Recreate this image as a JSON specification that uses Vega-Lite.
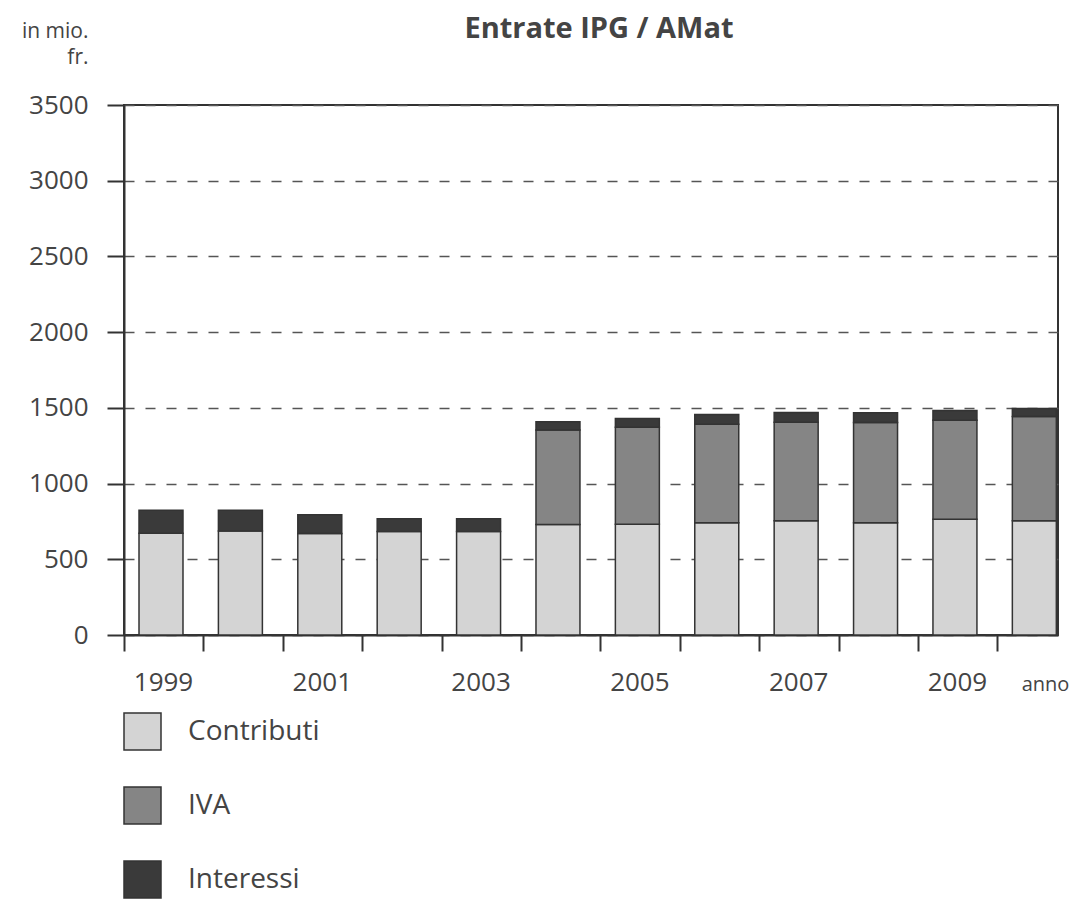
{
  "$schema": "https://vega.github.io/schema/vega-lite/v6.json",
  "width": 934,
  "height": 530,
  "autosize": {"type": "none"},
  "padding": {"left": 124, "top": 105, "right": 18, "bottom": 265},
  "background": "white",
  "title": {"text": "Entrate IPG / AMat", "font": "Open Sans", "fontSize": 29, "fontWeight": "bold", "color": "#444444", "anchor": "middle", "offset": -24, "dx": 8},
  "data": {"values": [
    {"year": "1999", "cat": "Contributi", "v": 672, "o": 1},
    {"year": "1999", "cat": "Interessi", "v": 151, "o": 3},
    {"year": "2000", "cat": "Contributi", "v": 686, "o": 1},
    {"year": "2000", "cat": "Interessi", "v": 137, "o": 3},
    {"year": "2001", "cat": "Contributi", "v": 670, "o": 1},
    {"year": "2001", "cat": "Interessi", "v": 124, "o": 3},
    {"year": "2002", "cat": "Contributi", "v": 684, "o": 1},
    {"year": "2002", "cat": "Interessi", "v": 83, "o": 3},
    {"year": "2003", "cat": "Contributi", "v": 683, "o": 1},
    {"year": "2003", "cat": "Interessi", "v": 84, "o": 3},
    {"year": "2004", "cat": "Contributi", "v": 729, "o": 1},
    {"year": "2004", "cat": "IVA", "v": 625, "o": 2},
    {"year": "2004", "cat": "Interessi", "v": 54, "o": 3},
    {"year": "2005", "cat": "Contributi", "v": 732, "o": 1},
    {"year": "2005", "cat": "IVA", "v": 640, "o": 2},
    {"year": "2005", "cat": "Interessi", "v": 58, "o": 3},
    {"year": "2006", "cat": "Contributi", "v": 741, "o": 1},
    {"year": "2006", "cat": "IVA", "v": 651, "o": 2},
    {"year": "2006", "cat": "Interessi", "v": 64, "o": 3},
    {"year": "2007", "cat": "Contributi", "v": 754, "o": 1},
    {"year": "2007", "cat": "IVA", "v": 651, "o": 2},
    {"year": "2007", "cat": "Interessi", "v": 64, "o": 3},
    {"year": "2008", "cat": "Contributi", "v": 741, "o": 1},
    {"year": "2008", "cat": "IVA", "v": 662, "o": 2},
    {"year": "2008", "cat": "Interessi", "v": 64, "o": 3},
    {"year": "2009", "cat": "Contributi", "v": 765, "o": 1},
    {"year": "2009", "cat": "IVA", "v": 653, "o": 2},
    {"year": "2009", "cat": "Interessi", "v": 64, "o": 3},
    {"year": "2010", "cat": "Contributi", "v": 754, "o": 1},
    {"year": "2010", "cat": "IVA", "v": 689, "o": 2},
    {"year": "2010", "cat": "Interessi", "v": 53, "o": 3}
  ]},
  "mark": {"type": "bar", "stroke": "#333333", "strokeWidth": 1.5},
  "encoding": {
    "x": {
      "field": "year", "type": "ordinal",
      "scale": {"paddingInner": 0.446, "paddingOuter": 0.105, "align": 0.9},
      "axis": {
        "title": "anno", "titleFont": "Open Sans", "titleFontSize": 20, "titleFontWeight": "normal", "titleColor": "#444444",
        "titleX": 921, "titleY": 49, "titleAlign": "center", "titleBaseline": "middle", "titleAnchor": null,
        "labelAngle": 0, "labelFont": "Open Sans", "labelFontSize": 26, "labelColor": "#444444",
        "labelExpr": "indexof(['1999','2001','2003','2005','2007','2009'], datum.label) >= 0 ? datum.label : ''",
        "bandPosition": 0, "tickOffset": -15, "labelOffset": 17, "labelPadding": 18,
        "tickSize": 16, "tickWidth": 2, "tickColor": "#333333",
        "domainColor": "#333333", "domainWidth": 2, "grid": false
      }
    },
    "y": {
      "field": "v", "type": "quantitative", "stack": "zero",
      "scale": {"domain": [0, 3500], "nice": false},
      "axis": {
        "values": [0, 500, 1000, 1500, 2000, 2500, 3000, 3500], "format": "d",
        "title": ["in mio.", "fr."], "titleFont": "Open Sans", "titleFontSize": 21, "titleFontWeight": "normal", "titleColor": "#444444",
        "titleAngle": 0, "titleAlign": "right", "titleBaseline": "top", "titleX": -36, "titleY": -85, "titleLineHeight": 26, "titleAnchor": null,
        "labelFont": "Open Sans", "labelFontSize": 26, "labelColor": "#444444", "labelPadding": 19,
        "tickSize": 17, "tickWidth": 2, "tickColor": "#333333",
        "domainColor": "#333333", "domainWidth": 2,
        "grid": true, "gridDash": [10, 11], "gridColor": "#555555", "gridWidth": 1.3
      }
    },
    "color": {
      "field": "cat", "type": "nominal",
      "scale": {"domain": ["Contributi", "IVA", "Interessi"], "range": ["#d4d4d4", "#858585", "#3a3a3a"]},
      "legend": {
        "orient": "none", "legendX": -1, "legendY": 607, "direction": "vertical", "title": null, "padding": 0,
        "symbolType": "square", "symbolSize": 1369, "symbolStrokeColor": "#333333", "symbolStrokeWidth": 1.5, "symbolOpacity": 1,
        "labelFont": "Open Sans", "labelFontSize": 28, "labelColor": "#444444", "labelOffset": 26, "labelBaseline": "middle", "rowPadding": 31
      }
    },
    "order": {"field": "o", "type": "quantitative"}
  },
  "config": {"view": {"stroke": "#333333", "strokeWidth": 2}, "font": "Open Sans"}
}
